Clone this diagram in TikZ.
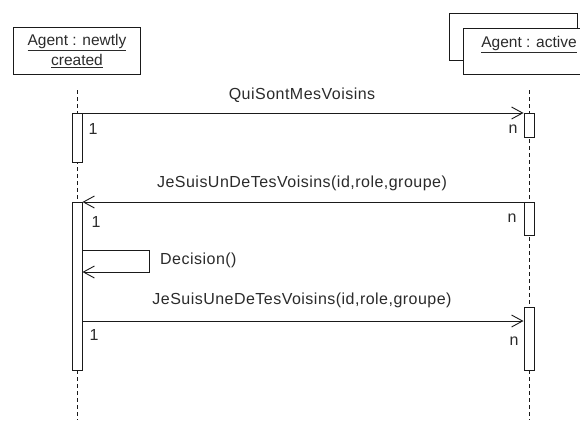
\documentclass[tikz,border=0pt]{standalone}
\usepackage{fontspec}
\setmainfont{Liberation Sans}
\newfontfamily\msgfont[LetterSpace=3]{Liberation Sans}
\usetikzlibrary{arrows.meta,positioning}
\definecolor{cLine}{HTML}{1A1A1A}
\definecolor{cText}{HTML}{2B2B2B}
\tikzset{
  head/.style ={draw=cLine,fill=white,line width=1pt,align=center,inner sep=0pt,
                font=\fontsize{15.5}{20}\selectfont,text=cText},
  actv/.style ={draw=cLine,fill=white,line width=1pt,minimum width=10pt,
                inner sep=0pt,anchor=north},
  life/.style ={draw=cLine,line width=0.9pt,dash pattern=on 4pt off 3pt},
  msg/.style  ={-{Straight Barb[length=11pt,width=12pt]},draw=cLine,line width=0.9pt},
  mlbl/.style ={font=\msgfont\fontsize{16}{20}\selectfont,text=cText,inner sep=0pt},
}

\begin{document}
\begin{tikzpicture}[x=1pt,y=-1pt]
\clip (0,0) rectangle (580,421);
\fill[white] (0,0) rectangle (580,421);

% lifeline heads
\node[head,minimum width=127pt,minimum height=47pt,anchor=north west] (hL) at (13,27)
  {\underline{Agent : newtly}\\ \underline{created}};
\node[head,minimum width=128pt,minimum height=47pt,anchor=north west] (hRb) at (449,13) {};
\node[head,minimum width=131pt,minimum height=46pt,anchor=north west] (hR) at (463,28)
  {\underline{Agent : active}\\ \mbox{}};

% lifelines (drawn first, bars sit on top)
\coordinate (endL) at (77,420);
\coordinate (endR) at (529,420);
\draw[life] (77,90) -- (endL);
\draw[life] (529,90) -- (endR);

% activation bars
\node[actv,minimum height=49pt]  (aL1) at (77,113) {};
\node[actv,minimum height=168pt] (aL2) at (77,202) {};
\node[actv,minimum height=24pt]  (aR1) at (529,113) {};
\node[actv,minimum height=33pt]  (aR2) at (529,202) {};
\node[actv,minimum height=63pt]  (aR3) at (529,307) {};

% messages
\draw[msg] (aL1.north east) -- (aR1.north west);
\draw[msg] (aR2.north west) -- (aL2.north east);
\coordinate (selfTop) at (149,250);
\coordinate (selfBot) at (149,272);
\draw[msg] (aL2.east |- selfTop) -- (selfTop) -- (selfBot) -- (aL2.east |- selfBot);
\coordinate (call3) at (300,321);
\draw[msg] (aL2.east |- call3) -- (aR3.west |- call3);

% labels
\node[mlbl] (m1) at (302,95)  {QuiSontMesVoisins};
\node[mlbl] (m2) at (302,183) {JeSuisUnDeTesVoisins(id,role,groupe)};
\node[mlbl,anchor=west] (m3) at (160,260) {Decision()};
\node[mlbl] (m4) at (302,300) {JeSuisUneDeTesVoisins(id,role,groupe)};
\node[mlbl] (c1) at (93,129)  {1};
\node[mlbl] (c2) at (96,222)  {1};
\node[mlbl] (c3) at (94,335)  {1};
\node[mlbl] (n1) at (513,129) {n};
\node[mlbl] (n2) at (512,218) {n};
\node[mlbl] (n3) at (514,341) {n};
\end{tikzpicture}
\end{document}
